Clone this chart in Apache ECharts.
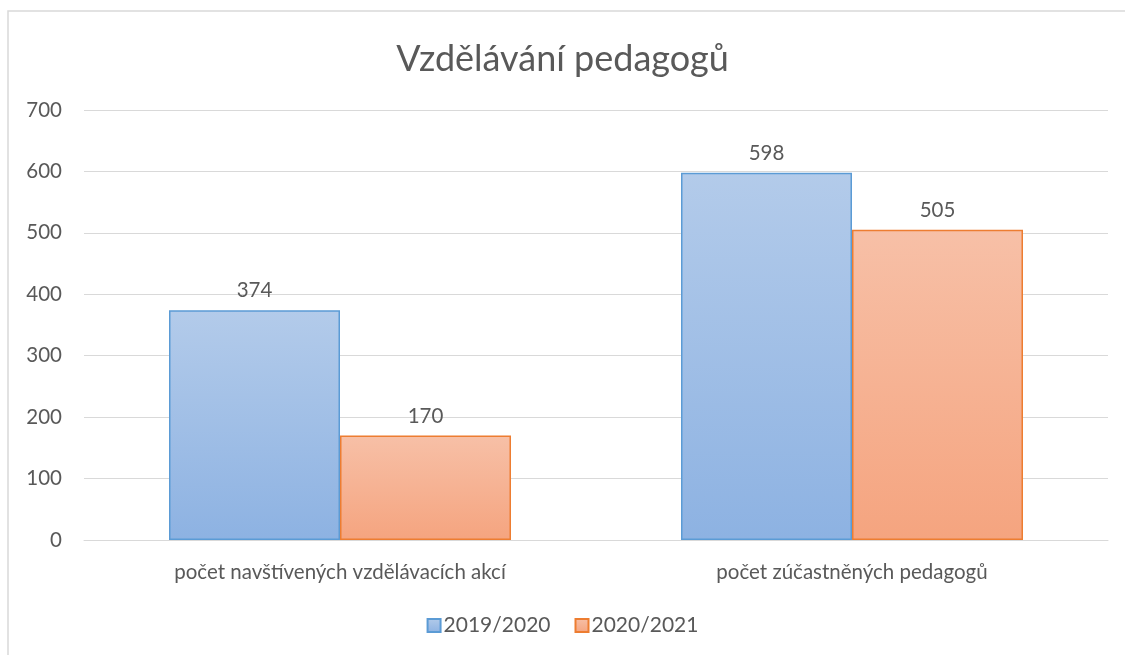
<!DOCTYPE html>
<html>
<head>
<meta charset="utf-8">
<script src="https://cdn.jsdelivr.net/npm/echarts@6/dist/echarts.min.js"></script>
<style>
  html, body { margin: 0; padding: 0; background: #fff; }
  #main { width: 1125px; height: 655px; }
</style>
</head>
<body>
<div id="main"></div>
<script>
// data
var categories = ['počet navštívených vzdělávacích akcí', 'počet zúčastněných pedagogů'];
var seriesNames = ['2019/2020', '2020/2021'];
var values2019 = [374, 598];
var values2020 = [170, 505];

var textColor = '#595959';
var font = 'Lato, "Open Sans", sans-serif';

function grad(top, bottom) {
  return new echarts.graphic.LinearGradient(0, 0, 0, 1, [
    {offset: 0, color: top},
    {offset: 1, color: bottom}
  ]);
}

var chart = echarts.init(document.getElementById('main'));
var option = {
  animation: false,
  textStyle: {fontFamily: font},
  graphic: [{
    type: 'rect',
    shape: {x: 8, y: 11, width: 1200, height: 700},
    style: {fill: 'none', stroke: '#d9d9d9', lineWidth: 1.5},
    silent: true, z: -1
  }],
  title: {
    text: 'Vzdělávání pedagogů',
    left: 'center',
    top: 36,
    textStyle: {fontFamily: font, fontSize: 36, fontWeight: 'normal', color: textColor}
  },
  legend: {
    bottom: 14,
    left: 'center',
    icon: 'rect',
    itemWidth: 13,
    itemHeight: 13,
    itemGap: 24,
    textStyle: {fontFamily: font, fontSize: 21, color: textColor, padding: [0, 0, 0, -2]},
    data: seriesNames
  },
  grid: {left: 84, right: 17, top: 110, bottom: 115},
  xAxis: {
    type: 'category',
    data: categories,
    axisLine: {lineStyle: {color: '#d9d9d9', width: 1}},
    axisTick: {show: false},
    axisLabel: {fontSize: 20.5, color: textColor, margin: 22, fontFamily: font}
  },
  yAxis: {
    type: 'value',
    min: 0,
    max: 700,
    interval: 100,
    axisLine: {show: false},
    axisTick: {show: false},
    splitLine: {lineStyle: {color: '#d9d9d9', width: 1}},
    axisLabel: {fontSize: 20.5, color: textColor, margin: 22, fontFamily: font}
  },
  series: [
    {
      name: seriesNames[0],
      type: 'bar',
      data: values2019,
      barWidth: 171,
      barGap: '0%',
      itemStyle: {color: grad('#b3cbea', '#8db2e2'), borderColor: '#5b9bd5', borderWidth: 1.5},
      label: {show: true, position: 'top', distance: 9, fontSize: 20.5, color: textColor, fontFamily: font}
    },
    {
      name: seriesNames[1],
      type: 'bar',
      data: values2020,
      barWidth: 171,
      barGap: '0%',
      itemStyle: {color: grad('#f7c0a7', '#f5a47f'), borderColor: '#ed7d31', borderWidth: 1.5},
      label: {show: true, position: 'top', distance: 9, fontSize: 20.5, color: textColor, fontFamily: font}
    }
  ]
};
chart.setOption(option);
</script>
</body>
</html>
